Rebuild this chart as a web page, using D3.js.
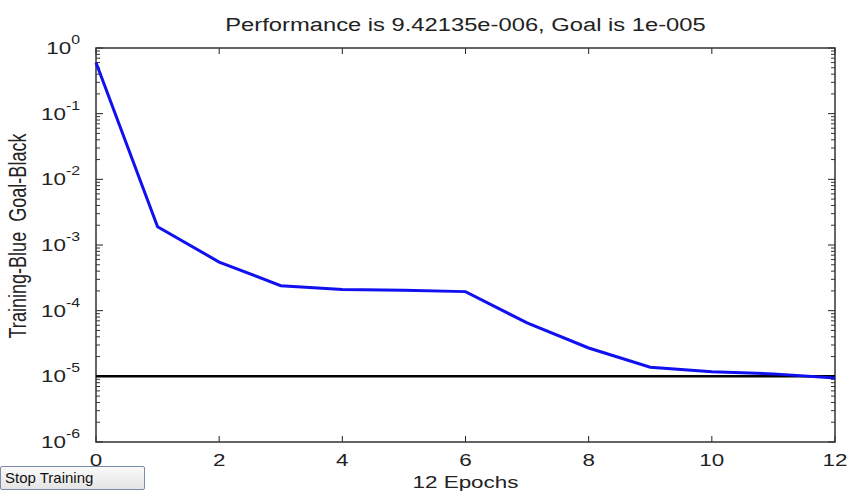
<!DOCTYPE html>
<html>
<head>
<meta charset="utf-8">
<script src="https://cdn.jsdelivr.net/npm/d3@7"></script>
<style>
  body { margin: 0; background: #fff; overflow: hidden; }
  svg { font-family: "Liberation Sans", Arial, sans-serif; }
  #stop {
    position: absolute; left: 0; top: 466px; width: 145px; height: 24px;
    box-sizing: border-box; border: 1px solid #7a8da8; border-radius: 2px;
    background: linear-gradient(#fafafa, #e4e4e4);
    font: 15px "Liberation Sans", Arial, sans-serif; color: #111;
    padding: 2px 0 0 4px;
  }
</style>
</head>
<body>
<div id="chart"></div>
<div id="stop">Stop Training</div>
<script>
// Training record
const epochs = [0, 1, 2, 3, 4, 5, 6, 7, 8, 9, 10, 11, 12];
const perf = [0.6, 1.9e-3, 5.5e-4, 2.4e-4, 2.1e-4, 2.05e-4, 1.95e-4, 6.5e-5, 2.7e-5, 1.38e-5, 1.17e-5, 1.09e-5, 9.42135e-6];
const goal = 1e-5;
const xTicks = [0, 2, 4, 6, 8, 10, 12];
const yDecades = [0, -1, -2, -3, -4, -5, -6];

const width = 851;
const height = 493;
const margin = { top: 48, right: 16, bottom: 51, left: 96 };
const stretch = 1.32; // the screenshot's text is wide

const svg = d3
  .select("#chart")
  .append("svg")
  .attr("width", width)
  .attr("height", height);

const x = d3.scaleLinear().domain([0, 12]).range([margin.left, width - margin.right]);
const y = d3.scaleLog().domain([1e-6, 1]).range([height - margin.bottom, margin.top]);

// Minor log ticks
const minor = [];
for (let e = -6; e < 0; e++) {
  for (let m = 2; m <= 9; m++) minor.push(m * Math.pow(10, e));
}

// Left & right axes (ticks inside)
[["left", margin.left, 1], ["right", width - margin.right, -1]].forEach(([side, px, dir]) => {
  const g = svg.append("g");
  g.selectAll("line.major")
    .data(yDecades)
    .enter()
    .append("line")
    .attr("x1", px)
    .attr("x2", px + dir * 7)
    .attr("y1", (d) => y(Math.pow(10, d)))
    .attr("y2", (d) => y(Math.pow(10, d)))
    .attr("stroke", "#222");
  g.selectAll("line.minor")
    .data(minor)
    .enter()
    .append("line")
    .attr("x1", px)
    .attr("x2", px + dir * 4)
    .attr("y1", (d) => y(d))
    .attr("y2", (d) => y(d))
    .attr("stroke", "#333");
});

// Top & bottom ticks
[[height - margin.bottom, -1], [margin.top, 1]].forEach(([py, dir]) => {
  svg.append("g")
    .selectAll("line")
    .data(xTicks)
    .enter()
    .append("line")
    .attr("x1", (d) => x(d))
    .attr("x2", (d) => x(d))
    .attr("y1", py)
    .attr("y2", py + dir * 6)
    .attr("stroke", "#222");
});

// Frame
svg.append("rect")
  .attr("x", margin.left)
  .attr("y", margin.top)
  .attr("width", width - margin.left - margin.right)
  .attr("height", height - margin.top - margin.bottom)
  .attr("fill", "none")
  .attr("stroke", "#333")
  .attr("stroke-width", 1.5);

// Y tick labels 10^n
const yl = svg.append("g")
  .selectAll("text")
  .data(yDecades)
  .enter()
  .append("text")
  .attr("transform", (d) => `translate(${margin.left - 16},${y(Math.pow(10, d)) + 6}) scale(${stretch},1)`)
  .attr("text-anchor", "end")
  .attr("font-size", 17)
  .attr("fill", "#222");
yl.append("tspan").text("10");
yl.append("tspan")
  .attr("dy", -10)
  .attr("font-size", 12)
  .text((d) => d);

// X tick labels
svg.append("g")
  .selectAll("text")
  .data(xTicks)
  .enter()
  .append("text")
  .attr("transform", (d) => `translate(${x(d)},${height - margin.bottom + 24}) scale(${stretch},1)`)
  .attr("text-anchor", "middle")
  .attr("font-size", 17)
  .attr("fill", "#222")
  .text((d) => d);

// Goal line
svg.append("line")
  .attr("x1", margin.left)
  .attr("x2", width - margin.right)
  .attr("y1", y(goal))
  .attr("y2", y(goal))
  .attr("stroke", "#000")
  .attr("stroke-width", 2.5);

// Training curve
const line = d3.line()
  .x((d, i) => x(epochs[i]))
  .y((d) => y(d));

svg.append("path")
  .datum(perf)
  .attr("d", line)
  .attr("fill", "none")
  .attr("stroke", "#1010f0")
  .attr("stroke-width", 3);

// Title
svg.append("text")
  .attr("transform", `translate(${(margin.left + width - margin.right) / 2},31) scale(${stretch},1)`)
  .attr("text-anchor", "middle")
  .attr("font-size", 18)
  .attr("fill", "#222")
  .text("Performance is 9.42135e-006, Goal is 1e-005");

// X label
svg.append("text")
  .attr("transform", `translate(${(margin.left + width - margin.right) / 2},488) scale(${stretch},1)`)
  .attr("text-anchor", "middle")
  .attr("font-size", 17)
  .attr("fill", "#222")
  .text("12 Epochs");

// Y label
svg.append("text")
  .attr("transform", `translate(26,236) rotate(-90) scale(1,${stretch})`)
  .attr("text-anchor", "middle")
  .attr("font-size", 18)
  .attr("fill", "#222")
  .style("white-space", "pre")
  .attr("textLength", 205)
  .attr("lengthAdjust", "spacingAndGlyphs")
  .text("Training-Blue  Goal-Black");
</script>
</body>
</html>
